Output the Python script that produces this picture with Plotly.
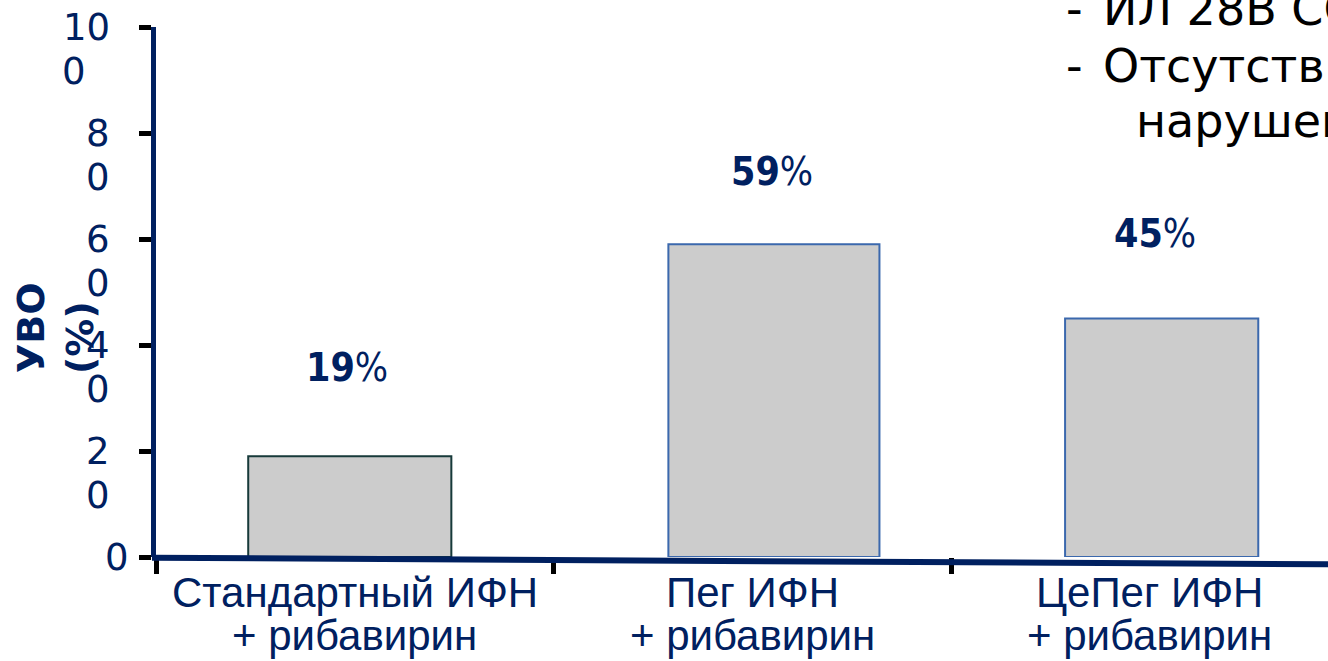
import plotly.graph_objects as go

# --- data -------------------------------------------------------------
categories = ["Стандартный ИФН", "Пег ИФН", "ЦеПег ИФН"]
category_second_line = ["+ рибавирин", "+ рибавирин", "+ рибавирин"]
svr_values = [19, 59, 45]
y_ticks = [0, 20, 40, 60, 80, 100]
y_title_lines = ["УВО", "(%)"]
note_lines = [("-", "ИЛ 28В СС"), ("-", "Отсутствие"), ("", "нарушений")]

# --- styling ----------------------------------------------------------
W, H = 1328, 661
M_L, M_R, M_T, M_B = 156, 0, 27, 104
PLOT_W = W - M_L - M_R
PLOT_H = H - M_T - M_B
NAVY = "#002060"
BAR_FILL = "#cccccc"
bar_edge = ["#173a3a", "#3b68ad", "#3b68ad"]
bar_width = [0.511, 0.531, 0.486]
bar_offset = [-0.268, -0.211, -0.213]
label_lift = [89, 73, 85]          # px between bar top and its value label
label_nudge = [-3, -2, -7]         # small horizontal nudges of the value labels
cat_px = 397.5                      # px per category slot
x_range = [-0.5, -0.5 + PLOT_W / cat_px]
TICK_FONT = dict(family="DejaVu Sans", size=37, color=NAVY)
TICK_LINE_GAP = 44                  # px between the two lines of a wrapped tick label
DIGIT_W = 0.636 * TICK_FONT["size"]


def px_x(px):
    return (px - M_L) / PLOT_W


def px_y(py):
    return (H - M_B - py) / PLOT_H


fig = go.Figure()
fig.add_trace(go.Bar(
    x=categories,
    y=svr_values,
    width=bar_width,
    offset=bar_offset,
    marker=dict(color=BAR_FILL, line=dict(color=bar_edge, width=2)),
    hoverinfo="skip",
))

ann = []

# value labels above the bars
for i, v in enumerate(svr_values):
    ann.append(dict(
        x=i + bar_offset[i] + bar_width[i] / 2, y=v, xref="x", yref="y",
        text=f"<b>{v}</b>%", showarrow=False, yanchor="middle",
        yshift=label_lift[i], xshift=label_nudge[i],
        font=dict(family="DejaVu Sans Condensed, DejaVu Sans", size=39, color=NAVY),
    ))

# y tick labels, wrapped so the last digit falls on its own line
for v in y_ticks:
    s = str(v)
    if len(s) > 1:
        head, tail = s[:-1], s[-1]
        ann.append(dict(
            x=0, y=v, xref="paper", yref="y", text=head,
            showarrow=False, xanchor="right", xshift=-44,
            yanchor="middle", font=TICK_FONT,
        ))
        ann.append(dict(
            x=0, y=v, xref="paper", yref="y", text=tail,
            showarrow=False, xanchor="right",
            xshift=-44 - (len(head) - 1) * DIGIT_W,
            yanchor="middle", yshift=-TICK_LINE_GAP, font=TICK_FONT,
        ))
    else:
        ann.append(dict(
            x=0, y=v, xref="paper", yref="y", text=s,
            showarrow=False, xanchor="right", xshift=-25,
            yanchor="middle", font=TICK_FONT,
        ))

# y axis title, two rotated lines
for txt, cx, cy in zip(y_title_lines, [31, 80], [328, 338]):
    ann.append(dict(
        x=px_x(cx), y=px_y(cy), xref="paper", yref="paper", text=f"<b>{txt}</b>",
        showarrow=False, textangle=-90, xanchor="center", yanchor="middle",
        font=dict(family="DejaVu Sans", size=38, color=NAVY),
    ))

# category labels (two lines each)
for i, (l1, l2) in enumerate(zip(categories, category_second_line)):
    for txt, cy in ((l1, 592.5), (l2, 635.5)):
        ann.append(dict(
            x=i, y=px_y(cy), xref="x", yref="paper", text=txt,
            showarrow=False, xanchor="center", yanchor="middle",
            font=dict(family="Liberation Sans, Arial", size=42, color=NAVY),
        ))

# note text in the upper right corner
NOTE_FONT = dict(family="DejaVu Sans", size=46, color="black")
for (dash, txt), cy, tx in zip(note_lines, [9, 66, 121], [1101, 1101, 1134]):
    if dash:
        ann.append(dict(
            x=px_x(1064), y=px_y(cy), xref="paper", yref="paper", text=dash,
            showarrow=False, xanchor="left", yanchor="middle", font=NOTE_FONT,
        ))
    ann.append(dict(
        x=px_x(tx), y=px_y(cy), xref="paper", yref="paper", text=txt,
        showarrow=False, xanchor="left", yanchor="middle", font=NOTE_FONT,
    ))

# slightly sloping baseline drawn as the x axis line
shapes = [dict(
    type="line", xref="paper", yref="paper",
    x0=px_x(152), x1=1, y0=px_y(557.8), y1=px_y(564.3),
    line=dict(color=NAVY, width=6), layer="above",
)]

fig.update_layout(
    width=W, height=H,
    margin=dict(l=M_L, r=M_R, t=M_T, b=M_B, pad=0),
    paper_bgcolor="white", plot_bgcolor="white",
    showlegend=False,
    annotations=ann,
    shapes=shapes,
    xaxis=dict(
        type="category", range=x_range, tickson="boundaries",
        ticks="outside", ticklen=16, tickwidth=5, tickcolor="black",
        showticklabels=False, showline=False, showgrid=False, zeroline=False,
    ),
    yaxis=dict(
        range=[0, 100], tickvals=y_ticks, ticks="outside", ticklen=12,
        tickwidth=5, tickcolor="black", showticklabels=False,
        showline=True, linecolor=NAVY, linewidth=5,
        showgrid=False, zeroline=False,
    ),
)

fig.write_html("out.html")
